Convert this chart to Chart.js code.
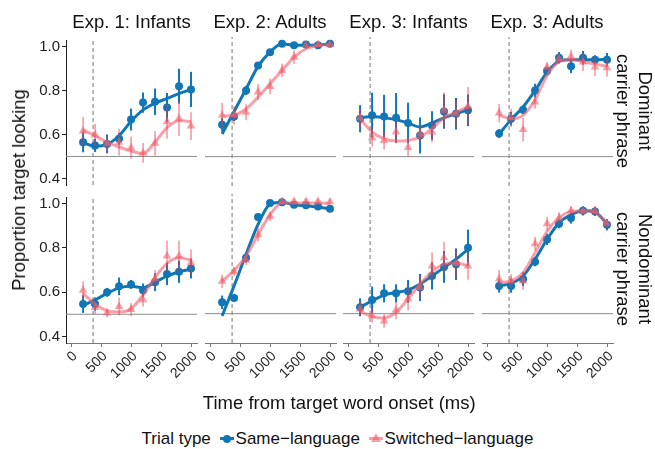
<!DOCTYPE html>
<html>
<head>
<meta charset="utf-8">
<script src="https://cdn.jsdelivr.net/npm/chart.js@4.4.1/dist/chart.umd.min.js"></script>
<style>
  body { margin: 0; background: #fff; font-family: "Liberation Sans", Arial, sans-serif; color: #111; }
  #wrap { position: relative; width: 655px; height: 449px; overflow: hidden; }
  canvas { position: absolute; }
  .lab { position: absolute; white-space: nowrap; }
  .strip { font-size: 18.5px; transform: translate(-50%, -50%); }
  .rstrip { font-size: 18.5px; line-height: 22px; text-align: center; transform: translate(-50%, -50%) rotate(90deg); }
  #legend { position: absolute; left: 10px; width: 655px; top: 428px; text-align: center; font-size: 17px; }
  #legend span { vertical-align: middle; }
  .key { display: inline-block; position: relative; width: 14px; height: 14px; margin: 0 2px 0 4px; }
</style>
</head>
<body>
<div id="wrap"></div>
<script>
// time points (ms) and axes
const times = [200, 400, 600, 800, 1000, 1200, 1400, 1600, 1800, 2000]
const xTicks = [0, 500, 1000, 1500, 2000]
const yTicks = [0.4, 0.6, 0.8, 1.0]
const onsetLine = 367
const chanceLine = 0.5
const colTitles = ["Exp. 1: Infants", "Exp. 2: Adults", "Exp. 3: Infants", "Exp. 3: Adults"]
const rowTitles = [["Dominant", "carrier phrase"], ["Nondominant", "carrier phrase"]]

// Exp 1 infants, dominant
const e1DomSame = [0.565, 0.55, 0.557, 0.58, 0.668, 0.745, 0.749, 0.723, 0.82, 0.805]
const e1DomSameErr = [0.046, 0.03, 0.043, 0.027, 0.05, 0.046, 0.06, 0.066, 0.079, 0.08]
const e1DomSameFit = [0.563, 0.547, 0.555, 0.594, 0.66, 0.712, 0.742, 0.764, 0.786, 0.805]
const e1DomSw = [0.616, 0.598, 0.557, 0.565, 0.54, 0.516, 0.56, 0.658, 0.673, 0.638]
const e1DomSwErr = [0.064, 0.05, 0.04, 0.06, 0.05, 0.045, 0.055, 0.077, 0.08, 0.063]
const e1DomSwFit = [0.62, 0.594, 0.565, 0.543, 0.525, 0.513, 0.565, 0.631, 0.664, 0.658]
// Exp 2 adults, dominant
const e2DomSame = [0.641, 0.678, 0.793, 0.904, 0.963, 1.0, 0.993, 0.997, 0.993, 1.0]
const e2DomSameErr = [0.03, 0.02, 0.02, 0.015, 0.01, 0.01, 0.01, 0.01, 0.01, 0.01]
const e2DomSameFit = [0.6, 0.7, 0.8, 0.9, 0.963, 1.0, 0.993, 0.993, 0.995, 1.0]
const e2DomSw = [0.683, 0.683, 0.697, 0.786, 0.811, 0.882, 0.941, 0.993, 0.997, 0.997]
const e2DomSwErr = [0.055, 0.04, 0.035, 0.035, 0.035, 0.03, 0.03, 0.015, 0.01, 0.01]
const e2DomSwFit = [0.68, 0.683, 0.712, 0.764, 0.823, 0.882, 0.94, 0.978, 0.993, 0.997]
// Exp 3 infants, dominant
const e3iDomSame = [0.668, 0.683, 0.678, 0.672, 0.649, 0.594, 0.638, 0.7, 0.69, 0.705]
const e3iDomSameErr = [0.06, 0.1, 0.096, 0.11, 0.09, 0.08, 0.063, 0.076, 0.07, 0.07]
const e3iDomSameFit = [0.672, 0.678, 0.672, 0.664, 0.649, 0.631, 0.649, 0.672, 0.69, 0.708]
const e3iDomSw = [0.672, 0.584, 0.572, 0.609, 0.54, 0.602, 0.609, 0.705, 0.69, 0.723]
const e3iDomSwErr = [0.04, 0.04, 0.04, 0.05, 0.04, 0.035, 0.045, 0.08, 0.06, 0.085]
const e3iDomSwFit = [0.668, 0.609, 0.58, 0.569, 0.572, 0.587, 0.624, 0.672, 0.697, 0.72]
// Exp 3 adults, dominant
const e3aDomSame = [0.602, 0.668, 0.708, 0.793, 0.879, 0.938, 0.9, 0.938, 0.929, 0.929]
const e3aDomSameErr = [0.02, 0.03, 0.02, 0.03, 0.02, 0.025, 0.03, 0.03, 0.02, 0.03]
const e3aDomSameFit = [0.6, 0.664, 0.72, 0.793, 0.874, 0.923, 0.929, 0.929, 0.929, 0.931]
const e3aDomSw = [0.693, 0.672, 0.62, 0.742, 0.897, 0.934, 0.944, 0.919, 0.897, 0.894]
const e3aDomSwErr = [0.04, 0.04, 0.052, 0.03, 0.02, 0.02, 0.03, 0.04, 0.04, 0.04]
const e3aDomSwFit = [0.683, 0.668, 0.683, 0.752, 0.86, 0.92, 0.93, 0.92, 0.911, 0.9]
// Exp 1 infants, nondominant
const e1NonSame = [0.546, 0.546, 0.599, 0.626, 0.635, 0.609, 0.645, 0.682, 0.692, 0.707]
const e1NonSameErr = [0.04, 0.03, 0.02, 0.04, 0.02, 0.03, 0.04, 0.05, 0.05, 0.045]
const e1NonSameFit = [0.54, 0.565, 0.594, 0.619, 0.626, 0.62, 0.645, 0.672, 0.692, 0.704]
const e1NonSw = [0.609, 0.531, 0.506, 0.535, 0.521, 0.565, 0.66, 0.763, 0.763, 0.733]
const e1NonSwErr = [0.04, 0.03, 0.02, 0.04, 0.03, 0.03, 0.04, 0.07, 0.07, 0.06]
const e1NonSwFit = [0.594, 0.546, 0.516, 0.51, 0.525, 0.587, 0.667, 0.73, 0.755, 0.745]
// Exp 2 adults, nondominant
const e2NonSame = [0.55, 0.569, 0.748, 0.928, 0.99, 0.994, 0.982, 0.98, 0.975, 0.965]
const e2NonSameErr = [0.03, 0.015, 0.02, 0.015, 0.01, 0.01, 0.01, 0.01, 0.01, 0.01]
const e2NonSameFit = [0.49, 0.623, 0.763, 0.895, 0.985, 0.994, 0.982, 0.978, 0.972, 0.965]
const e2NonSw = [0.643, 0.686, 0.736, 0.85, 0.931, 0.998, 0.998, 0.998, 0.998, 0.996]
const e2NonSwErr = [0.03, 0.02, 0.02, 0.03, 0.02, 0.01, 0.01, 0.01, 0.01, 0.01]
const e2NonSwFit = [0.643, 0.692, 0.755, 0.85, 0.938, 0.99, 0.99, 0.99, 0.99, 0.988]
// Exp 3 infants, nondominant
const e3iNonSame = [0.528, 0.56, 0.59, 0.59, 0.599, 0.616, 0.667, 0.707, 0.719, 0.792]
const e3iNonSameErr = [0.04, 0.06, 0.04, 0.04, 0.05, 0.06, 0.06, 0.07, 0.07, 0.08]
const e3iNonSameFit = [0.528, 0.557, 0.582, 0.594, 0.604, 0.631, 0.667, 0.704, 0.741, 0.785]
const e3iNonSw = [0.521, 0.491, 0.467, 0.516, 0.565, 0.616, 0.711, 0.748, 0.722, 0.711]
const e3iNonSwErr = [0.03, 0.03, 0.03, 0.04, 0.05, 0.05, 0.06, 0.07, 0.06, 0.06]
const e3iNonSwFit = [0.51, 0.487, 0.481, 0.506, 0.565, 0.631, 0.686, 0.719, 0.726, 0.711]
// Exp 3 adults, nondominant
const e3aNonSame = [0.623, 0.623, 0.653, 0.73, 0.829, 0.898, 0.924, 0.956, 0.953, 0.894]
const e3aNonSameErr = [0.03, 0.03, 0.03, 0.02, 0.025, 0.02, 0.025, 0.02, 0.02, 0.025]
const e3aNonSameFit = [0.623, 0.634, 0.667, 0.741, 0.829, 0.902, 0.938, 0.956, 0.95, 0.898]
const e3aNonSw = [0.653, 0.645, 0.645, 0.81, 0.898, 0.924, 0.956, 0.953, 0.956, 0.898]
const e3aNonSwErr = [0.04, 0.03, 0.04, 0.03, 0.03, 0.025, 0.02, 0.02, 0.02, 0.02]
const e3aNonSwFit = [0.638, 0.645, 0.682, 0.77, 0.865, 0.924, 0.953, 0.956, 0.95, 0.898]

const panels = [
    [e1DomSame, e1DomSameErr, e1DomSameFit, e1DomSw, e1DomSwErr, e1DomSwFit],
    [e2DomSame, e2DomSameErr, e2DomSameFit, e2DomSw, e2DomSwErr, e2DomSwFit],
    [e3iDomSame, e3iDomSameErr, e3iDomSameFit, e3iDomSw, e3iDomSwErr, e3iDomSwFit],
    [e3aDomSame, e3aDomSameErr, e3aDomSameFit, e3aDomSw, e3aDomSwErr, e3aDomSwFit],
    [e1NonSame, e1NonSameErr, e1NonSameFit, e1NonSw, e1NonSwErr, e1NonSwFit],
    [e2NonSame, e2NonSameErr, e2NonSameFit, e2NonSw, e2NonSwErr, e2NonSwFit],
    [e3iNonSame, e3iNonSameErr, e3iNonSameFit, e3iNonSw, e3iNonSwErr, e3iNonSwFit],
    [e3aNonSame, e3aNonSameErr, e3aNonSameFit, e3aNonSw, e3aNonSwErr, e3aNonSwFit]
]

// layout
const xMin = -85, xMax = 2100, yMin = 0.37, yMax = 1.03
const colLeft = [66, 204.5, 343, 481.5]
const rowTop = [36.5, 194.2]
const panelW = 131, panelH = 149
const yAxisW = 40, xAxisH = 58, padTop = 8, padRight = 8, padBottomTop = 10

const blue = "#1176b5"
const pink = "rgba(244, 96, 108, 0.6)"
const pinkBar = "rgba(238, 50, 68, 0.8)"
const refGrey = "#8c8c8c"

Chart.defaults.font.family = "'Liberation Sans', Arial, sans-serif"
Chart.defaults.color = "#222"

const wrap = document.getElementById("wrap")

// vertical error bars, drawn just before the points of their dataset
const errorBarPlugin = {
    id: "errorBars",
    beforeDatasetDraw(chart, args) {
        const ds = chart.data.datasets[args.index]
        if (!ds.errors) return
        const ctx = chart.ctx
        const xs = chart.scales.x, ys = chart.scales.y
        ctx.save()
        ctx.strokeStyle = ds.errorColor
        ctx.lineWidth = ds.errorWidth
        ds.data.forEach((p, i) => {
            const px = xs.getPixelForValue(p.x)
            ctx.beginPath()
            ctx.moveTo(px, ys.getPixelForValue(p.y - ds.errors[i]))
            ctx.lineTo(px, ys.getPixelForValue(p.y + ds.errors[i]))
            ctx.stroke()
        })
        ctx.restore()
    }
}

const toPoints = (vals) => vals.map((v, i) => ({ x: times[i], y: v }))

const makePanel = (idx) => {
    const row = Math.floor(idx / 4), col = idx % 4
    const [same, sameErr, sameFit, sw, swErr, swFit] = panels[idx]
    const padBottom = row == 0 ? padBottomTop : 0
    const w = yAxisW + panelW + padRight
    const h = padTop + panelH + (row == 1 ? xAxisH : padBottom)
    const canvas = document.createElement("canvas")
    canvas.width = w
    canvas.height = h
    canvas.style.width = w + "px"
    canvas.style.height = h + "px"
    canvas.style.left = (colLeft[col] - yAxisW) + "px"
    canvas.style.top = (rowTop[row] - padTop) + "px"
    wrap.appendChild(canvas)

    new Chart(canvas.getContext("2d"), {
        type: "scatter",
        data: {
            datasets: [
                { type: "line", data: [{ x: xMin, y: chanceLine }, { x: xMax, y: chanceLine }],
                  borderColor: refGrey, borderWidth: 1, pointRadius: 0, order: 9 },
                { type: "line", data: [{ x: onsetLine, y: yMin }, { x: onsetLine, y: yMax }],
                  borderColor: refGrey, borderWidth: 1.2, borderDash: [4, 3], pointRadius: 0, order: 8 },
                { type: "line", data: toPoints(sameFit), borderColor: blue, borderWidth: 3,
                  cubicInterpolationMode: "monotone", pointRadius: 0, order: 7 },
                { type: "scatter", data: toPoints(same), errors: sameErr, errorColor: blue, errorWidth: 2,
                  backgroundColor: blue, borderColor: blue, pointStyle: "circle", pointRadius: 4, borderWidth: 0, order: 6 },
                { type: "line", data: toPoints(swFit), borderColor: pink, borderWidth: 3,
                  cubicInterpolationMode: "monotone", pointRadius: 0, order: 5 },
                { type: "scatter", data: toPoints(sw), errors: swErr, errorColor: pinkBar, errorWidth: 1,
                  backgroundColor: pink, borderColor: pink, pointStyle: "triangle", pointRadius: 5, borderWidth: 0, order: 4 }
            ]
        },
        options: {
            responsive: false,
            animation: false,
            devicePixelRatio: 1,
            clip: false,
            layout: { padding: { top: padTop, right: padRight, left: 0, bottom: padBottom } },
            plugins: { legend: { display: false }, tooltip: { enabled: false } },
            scales: {
                x: {
                    type: "linear", min: xMin, max: xMax, display: row == 1,
                    afterBuildTicks: (s) => { s.ticks = xTicks.map(v => ({ value: v })) },
                    afterFit: (s) => { if (row == 1) s.height = xAxisH },
                    ticks: { minRotation: 45, maxRotation: 45, padding: 1, labelOffset: 4, color: "#222",
                             font: { size: 14 }, callback: (v) => String(v) },
                    grid: { drawOnChartArea: false, tickLength: 4, color: "#777" },
                    border: { color: "#777" }
                },
                y: {
                    type: "linear", min: yMin, max: yMax,
                    afterBuildTicks: (s) => { s.ticks = yTicks.map(v => ({ value: v })) },
                    afterFit: (s) => { s.width = yAxisW },
                    ticks: { display: col == 0, autoSkip: false, padding: 2, color: "#222", font: { size: 15 },
                             callback: (v) => v.toFixed(1) },
                    grid: { display: col == 0, drawOnChartArea: false, tickLength: 4, color: "#222" },
                    border: { display: col == 0, color: "#222" }
                }
            }
        },
        plugins: [errorBarPlugin]
    })
}

for (let i = 0; i < 8; i++) makePanel(i)

// facet strips and axis titles
const addLabel = (text, cls, x, y) => {
    const div = document.createElement("div")
    div.className = "lab " + cls
    div.innerHTML = text
    div.style.left = x + "px"
    div.style.top = y + "px"
    wrap.appendChild(div)
    return div
}
colTitles.forEach((t, c) => addLabel(t, "strip", colLeft[c] + panelW / 2, 22))
rowTitles.forEach((t, r) => addLabel(t.join("<br>"), "rstrip", 634, rowTop[r] + panelH / 2))
addLabel("Proportion target looking", "strip", 19, 190).style.transform = "translate(-50%, -50%) rotate(-90deg)"
addLabel("Time from target word onset (ms)", "strip", colLeft[0] + (colLeft[3] + panelW - colLeft[0]) / 2, 403)

// legend
const legend = document.createElement("div")
legend.id = "legend"
legend.innerHTML = `
  <span>Trial type</span>
  <span class="key">
    <i style="position:absolute;left:0;top:5.5px;width:14px;height:3px;background:${blue}"></i>
    <i style="position:absolute;left:3px;top:3px;width:8px;height:8px;border-radius:50%;background:${blue}"></i>
  </span><span>Same&minus;language</span>
  <span class="key">
    <i style="position:absolute;left:0;top:5.5px;width:14px;height:3px;background:${pink}"></i>
    <i style="position:absolute;left:2px;top:1px;width:0;height:0;border-left:5px solid transparent;border-right:5px solid transparent;border-bottom:9px solid ${pink}"></i>
  </span><span>Switched&minus;language</span>`
wrap.appendChild(legend)
</script>
</body>
</html>
